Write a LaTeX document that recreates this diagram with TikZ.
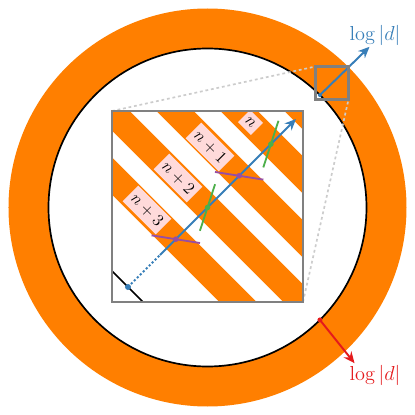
\documentclass[tikz,border=0pt]{standalone}
\usepackage{amsmath,amssymb}
\usetikzlibrary{positioning,calc,arrows.meta}

\definecolor{setred}{RGB}{228,26,28}
\definecolor{setblue}{RGB}{55,126,184}
\definecolor{setgreen}{RGB}{77,175,74}
\definecolor{setpurple}{RGB}{152,78,163}
\definecolor{setorange}{RGB}{255,127,0}
\definecolor{lblpink}{RGB}{255,218,218}

\begin{document}
\begin{tikzpicture}[x=0.025cm,y=0.025cm,>={Stealth[length=8pt,width=7pt]}]

    \tikzset{ring/.style={fill=setorange,even odd rule},
      zoombox/.style={draw=gray,line width=1.5pt},
      zoomline/.style={draw=black!20,line width=1.2pt,dash pattern=on 2pt off 2pt},
      band/.style={draw=setorange,line width=0.66cm},
      lbl/.style={fill=lblpink,rotate=-45,inner xsep=3pt,inner ysep=3.5pt,font=\large},
      tick/.style={line width=1.3pt},
      dirlbl/.style={font=\Large,inner sep=1pt}}
    \useasboundingbox (-207.5,-207.5) rectangle (207.5,207.5);

    % big ring
    \fill[ring] (0,0) circle (199) (0,0) circle (159);
    \draw[line width=1.2pt] (0,0) circle (159);
    \coordinate (bdot) at (45:159);
    \coordinate (rdot) at (-45:159);

    % zoom window and its inset
    \coordinate (sa) at (108,141);
    \coordinate (sb) at (141,108);
    \coordinate (ia) at (-95.5,96.5);
    \coordinate (ib) at (95.5,-94.5);
    \draw[zoomline] (ia) -- (sa);
    \draw[zoomline] (ib) -- (sb);

    \node[dirlbl,text=setblue] (bluelbl) at (167.5,172.5) {$\log|d|$};
    \node[dirlbl,text=setred] (redlbl) at (167.5,-167.5) {$\log|d|$};
    \draw[setblue,line width=1.4pt,->] (bdot) -- (bluelbl.-115);
    \fill[setblue] (bdot) circle (2);
    \draw[setred,line width=1.4pt,->] (rdot) -- (redlbl.150);
    \fill[setred] (rdot) circle (2.5);
    \draw[zoombox] (sb) rectangle (sa);

    \fill[white] (ia) rectangle (ib);
    \begin{scope}
      \clip (ia) rectangle (ib);
      \foreach \c in {-64,0,64,128,192}
        \draw[band] ({\c/2-150},{\c/2+150}) -- ({\c/2+150},{\c/2-150});
      \node[lbl] (l3) at (-60.5,-2.5) {$n+3$};
      \node[lbl] (l2) at (-29.5,29.5) {$n+2$};
      \node[lbl] (l1) at (2.5,60.5) {$n+1$};
      \node[lbl] (l0) at (43,85) {$n$};
      \draw[line width=1.2pt] (-110,-49) -- (-49,-110);

      \coordinate (start) at (-79.5,-79.5);
      \coordinate (mid) at (-47.5,-47.5);
      \coordinate (tip) at (88.5,88.5);
      \coordinate (m1) at (-31.7,-31.7);
      \coordinate (m2) at (0,0);
      \coordinate (m3) at (31.7,31.7);
      \coordinate (m4) at (63.4,63.4);
      \draw[setblue,line width=1.4pt,dash pattern=on 1.5pt off 1.5pt] (start) -- (mid);
      \draw[setblue,line width=1.4pt,->] (mid) -- (tip);
      \fill[setblue] (start) circle (3);

      \foreach \m in {m1,m3}{
        \draw[tick,setpurple] (\m) ++(171:24.5) -- ++(-9:49);
        \fill[setpurple] (\m) circle (2.8);
      }
      \foreach \m in {m2,m4}{
        \draw[tick,setgreen] (\m) ++(252:24.5) -- ++(72:49);
        \fill[setgreen] (\m) circle (2.8);
      }
    \end{scope}
    \draw[zoombox] (ia) rectangle (ib);
\end{tikzpicture}
\end{document}
